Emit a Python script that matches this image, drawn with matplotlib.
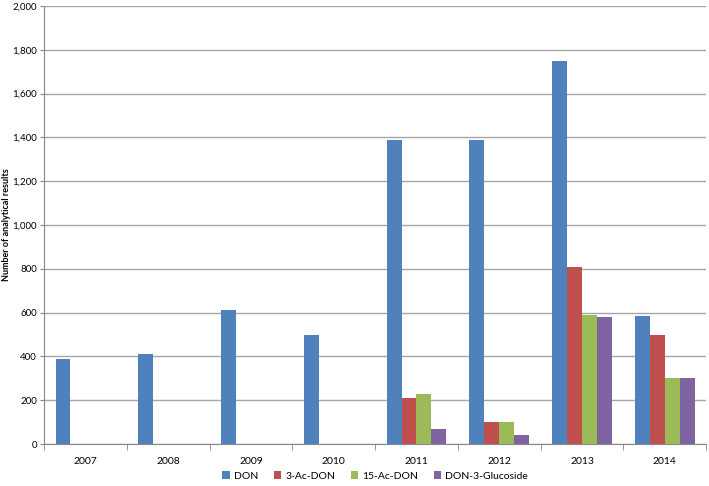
import matplotlib.pyplot as plt
import numpy as np

years = ['2007', '2008', '2009', '2010', '2011', '2012', '2013', '2014']
series = ['DON', '3-Ac-DON', '15-Ac-DON', 'DON-3-Glucoside']
don = [390, 410, 610, 500, 1390, 1390, 1750, 585]
ac3 = [0, 0, 0, 0, 210, 100, 810, 500]
ac15 = [0, 0, 0, 0, 230, 100, 590, 300]
gluc = [0, 0, 0, 0, 70, 40, 580, 300]
colors = ['#4F81BD', '#C0504D', '#9BBB59', '#8064A2']

plt.rcParams['font.family'] = ['Lato', 'DejaVu Sans']

fig = plt.figure(figsize=(7.09, 4.86), dpi=100)
ax = fig.add_axes([0.062, 0.0864, 0.934, 0.9013])

x = np.arange(len(years))
w = 0.18
for i, (vals, name) in enumerate(zip([don, ac3, ac15, gluc], series)):
    ax.bar(x + (i - 1.5) * w, vals, w, color=colors[i], label=name, zorder=3)

ax.set_xlim(-0.5, len(years) - 0.5)
ax.set_ylim(0, 2000)
ax.set_yticks(np.arange(0, 2001, 200))
ax.set_yticklabels(['{:,}'.format(v) for v in range(0, 2001, 200)], fontsize=7)
ax.yaxis.grid(True, color='#A6A6A6', linewidth=1, zorder=0)

ax.set_xticks(x)
ax.set_xticklabels(years, fontsize=7.5)
ax.set_xticks(np.arange(-0.5, len(years)), minor=True)
ax.tick_params(axis='x', which='major', length=0, pad=9)
ax.tick_params(axis='x', which='minor', length=4, color='#888888')
ax.tick_params(axis='y', length=3, color='#888888', pad=2)

for s in ['top', 'right']:
    ax.spines[s].set_visible(False)
for s in ['left', 'bottom']:
    ax.spines[s].set_color('#888888')

ax.set_ylabel('Number of analytical results', fontsize=6.5, fontweight='bold')
ax.yaxis.set_label_coords(-0.05, 0.5)

ax.legend(loc='lower center', bbox_to_anchor=(0.5, -0.105), ncol=4, frameon=False,
          fontsize=7.5, handlelength=0.7, handleheight=0.7, columnspacing=1.5, handletextpad=0.4)

fig.savefig('out.png', dpi=100)
